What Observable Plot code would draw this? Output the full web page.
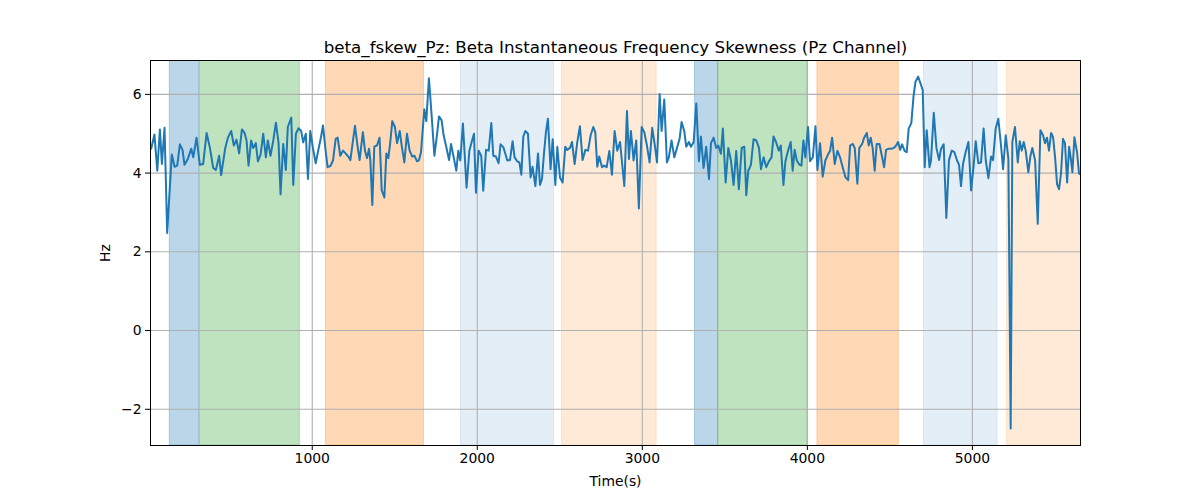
<!DOCTYPE html>
<html>
<head>
<meta charset="utf-8">
<script src="https://cdn.jsdelivr.net/npm/d3@7"></script>
<script src="https://cdn.jsdelivr.net/npm/@observablehq/plot@0.6"></script>
<style>
  html, body { margin: 0; padding: 0; background: white; }
  #chart { width: 1200px; height: 500px; }
</style>
</head>
<body>
<div id="chart"></div>
<script>
const chartTitle = "beta_fskew_Pz: Beta Instantaneous Frequency Skewness (Pz Channel)";
const xLabel = "Time(s)";
const yLabel = "Hz";
const xTicks = [1000, 2000, 3000, 4000, 5000];
const yTicks = [-2, 0, 2, 4, 6];

// [time (s), Hz]
const signal = [
  [24,4.62],[44,4.98],[61,4.06],[77,5.11],[89,4.23],[105,5.15],[121,2.48],[149,4.47],[166,4.16],[182,4.19],
  [198,4.73],[214,4.59],[226,4.21],[246,4.36],[267,4.62],[279,4.40],[299,4.90],[319,4.21],[339,4.23],[360,5.02],
  [380,4.64],[400,4.13],[416,4.08],[436,4.44],[448,3.95],[473,4.64],[489,4.90],[509,5.07],[525,4.70],[541,4.85],
  [557,4.50],[574,5.11],[590,5.02],[602,4.83],[614,4.19],[630,4.83],[642,4.64],[658,4.76],[671,4.30],[687,4.47],
  [703,5.00],[719,4.40],[731,4.83],[747,4.44],[764,4.83],[780,5.28],[796,4.76],[808,3.46],[824,4.74],[840,4.08],
  [852,5.17],[873,5.41],[885,3.70],[901,5.00],[917,5.14],[933,5.07],[945,4.78],[961,5.00],[974,3.85],
  [988,5.07],[1004,4.64],[1021,4.25],[1037,4.59],[1053,4.91],[1065,5.21],[1081,4.57],[1093,4.15],[1110,4.18],[1126,4.32],
  [1142,4.87],[1154,4.90],[1170,4.44],[1186,4.57],[1202,4.50],[1219,4.42],[1231,4.33],[1247,4.83],[1259,5.20],[1275,4.67],
  [1287,4.33],[1307,5.04],[1320,4.56],[1332,4.38],[1344,4.62],[1352,4.33],[1364,3.19],[1376,4.67],[1392,4.70],[1408,4.90],
  [1421,3.56],[1437,3.38],[1449,4.50],[1461,4.38],[1473,4.79],[1485,5.32],[1501,5.17],[1514,4.76],[1530,5.07],[1542,4.70],
  [1558,4.27],[1574,5.00],[1590,4.57],[1606,4.42],[1619,4.44],[1635,4.30],[1647,4.33],[1659,4.53],[1679,5.62],[1691,5.32],
  [1707,6.41],[1724,5.43],[1740,4.44],[1756,4.98],[1768,5.44],[1784,5.34],[1796,4.96],[1812,4.67],[1829,4.33],[1841,4.74],
  [1857,4.40],[1873,4.06],[1885,4.57],[1897,4.32],[1913,5.26],
  [1935,3.63],[1952,4.57],[1964,4.76],[1980,5.00],[1992,3.50],[2008,4.57],[2024,4.44],[2036,3.55],[2053,4.59],[2069,4.57],
  [2085,5.27],[2097,4.44],[2113,4.42],[2129,4.25],[2141,4.73],[2158,4.66],[2170,4.49],[2182,4.32],[2198,4.33],[2214,4.81],
  [2226,4.40],[2242,4.30],[2255,4.27],[2267,3.96],[2279,4.93],[2291,5.07],[2307,5.00],[2323,3.89],[2335,4.16],[2352,3.67],
  [2368,4.50],[2380,3.70],[2392,3.85],[2404,4.49],[2416,5.04],[2428,5.38],[2444,4.10],[2457,4.86],[2473,3.70],[2485,4.67],
  [2501,3.89],[2517,3.76],[2533,4.67],[2545,4.59],[2562,4.64],[2574,4.79],[2590,4.23],[2606,4.79],[2622,5.19],[2638,4.33],
  [2655,4.59],[2671,4.57],[2687,4.96],[2703,5.17],[2715,5.04],[2727,4.16],[2739,4.42],[2756,4.15],[2768,4.19],[2784,4.15],
  [2800,4.56],[2816,3.96],[2832,5.07],[2848,4.57],[2865,4.79],
  [2891,3.67],[2907,5.58],[2919,4.36],[2931,5.07],[2947,4.32],[2963,4.83],[2979,3.10],[2996,5.17],[3012,5.04],[3028,4.70],
  [3044,4.27],[3060,5.15],[3076,4.70],[3089,4.27],[3105,6.01],[3117,5.07],[3133,5.87],[3149,4.27],[3161,4.40],[3177,4.83],
  [3194,4.40],[3210,4.64],[3226,4.87],[3238,5.30],[3254,5.07],[3266,4.67],[3282,4.79],[3295,4.67],[3311,4.79],[3327,5.77],
  [3343,4.30],[3355,4.93],[3371,4.13],[3387,4.67],[3404,3.85],[3416,4.76],[3432,4.90],[3448,4.64],[3460,4.70],[3476,4.49],
  [3488,5.13],[3505,3.76],[3521,4.64],[3537,4.32],[3553,3.70],[3569,4.56],[3585,3.59],[3602,4.64],[3618,4.67],[3630,3.44],
  [3642,4.06],[3658,4.21],[3674,4.86],[3690,4.83],[3707,4.64],[3719,4.10],[3735,4.40],[3751,4.15],[3767,4.30],[3783,4.40],
  [3795,4.93],
  [3810,4.79],[3827,4.57],[3839,4.70],[3855,3.70],[3867,4.30],[3883,4.57],[3899,4.79],[3911,4.06],[3923,4.59],[3936,4.32],
  [3952,4.21],[3964,4.19],[3976,4.83],[3988,4.40],[4004,5.17],[4016,4.30],[4033,4.40],[4049,5.19],[4061,4.08],[4077,4.76],
  [4093,3.91],[4109,4.32],[4125,4.47],[4138,4.57],[4150,4.90],[4166,4.23],[4182,4.57],[4198,4.40],[4214,4.15],[4231,3.89],
  [4247,3.82],[4259,4.70],[4275,4.74],[4287,4.64],[4303,3.73],[4315,4.64],[4332,4.74],[4344,4.90],[4360,5.02],[4372,4.70],
  [4384,4.90],[4396,4.62],[4408,4.06],[4420,4.74],[4437,4.74],[4449,4.49],[4465,4.15],[4477,4.59],[4493,4.62],[4509,4.62],
  [4525,4.64],[4538,4.70],[4550,4.79],[4562,4.59],[4574,4.73],[4590,4.56],[4602,4.53],[4614,5.13],[4630,5.27],[4643,5.94],
  [4655,6.32],[4671,6.45],[4687,6.26],[4699,6.11],[4711,4.15],[4723,5.09],[4740,4.15],
  [4749,4.32],[4766,5.53],[4782,4.64],[4798,4.33],[4810,4.62],[4826,4.73],[4842,2.86],[4858,4.33],[4875,4.57],[4891,4.53],
  [4907,4.32],[4919,4.21],[4931,3.67],[4943,4.23],[4959,4.53],[4976,4.79],[4992,3.56],[5008,4.21],[5020,4.81],[5036,4.25],
  [5052,4.27],[5068,5.13],[5081,4.32],[5097,3.87],[5113,4.42],[5125,4.33],[5141,5.13],[5157,5.38],[5174,4.67],[5186,4.10],
  [5202,4.96],[5218,4.36],[5232,-2.49],[5242,4.79],[5258,5.17],[5275,4.27],[5287,4.81],[5299,4.57],[5311,4.79],[5323,4.57],
  [5339,4.02],[5351,4.42],[5363,4.64],[5380,4.32],[5396,2.71],[5412,5.09],[5428,4.96],[5440,4.76],[5452,4.90],[5464,4.57],
  [5477,5.02],[5489,4.91],[5501,4.40],[5513,3.72],[5525,3.59],[5537,3.99],[5549,4.87],[5561,4.76],[5574,3.76],[5586,4.67],
  [5598,4.32],[5606,4.02],[5618,4.91],[5634,4.53],[5646,3.99],[5654,3.97]
];

// shaded intervals
const regionStart = [137, 319, 1083, 1901, 2513, 3319, 3460, 4061, 4707, 5210];
const regionEnd   = [315, 925, 1677, 2465, 3087, 3460, 4000, 4554, 5153, 5700];
const regionColor = ["#1f77b4", "#2ca02c", "#ff7f0e", "#1f77b4", "#ff7f0e",
                     "#1f77b4", "#2ca02c", "#ff7f0e", "#1f77b4", "#ff7f0e"];
const regionAlpha = [0.3, 0.3, 0.3, 0.12, 0.16, 0.3, 0.3, 0.3, 0.12, 0.16];

const xDomain = [20, 5655];
const yDomain = [-2.92, 6.86];

const regions = regionStart.map((s, i) => {
  const c = d3.color(regionColor[i]);
  c.opacity = regionAlpha[i];
  return {start: s, end: regionEnd[i], fill: c.formatRgb()};
});

const fmtY = d => (d < 0 ? "\u2212" + Math.abs(d) : String(d));

const chart = Plot.plot({
  width: 1200,
  height: 500,
  marginLeft: 150,
  marginRight: 120,
  marginTop: 60,
  marginBottom: 55,
  style: {fontFamily: "DejaVu Sans, sans-serif", fontSize: "13.9px", color: "black", background: "white", overflow: "visible"},
  x: {domain: xDomain},
  y: {domain: yDomain},
  color: {type: "identity"},
  marks: [
    Plot.rect(regions, {x1: "start", x2: "end", fill: "fill", stroke: "fill", strokeWidth: 1, clip: true}),
    Plot.gridX({ticks: xTicks, stroke: "#b0b0b0", strokeOpacity: 1, strokeWidth: 1.1}),
    Plot.gridY({ticks: yTicks, stroke: "#b0b0b0", strokeOpacity: 1, strokeWidth: 1.1}),
    Plot.line(signal, {x: d => d[0], y: d => d[1], stroke: "#1f77b4", strokeWidth: 2, clip: true}),
    Plot.frame({stroke: "black", strokeWidth: 1}),
    Plot.axisX({ticks: xTicks, tickFormat: d => String(d), tickSize: 5, tickPadding: 3,
      label: xLabel, labelAnchor: "center", labelArrow: "none", labelOffset: 40}),
    Plot.axisY({ticks: yTicks, tickFormat: fmtY, tickSize: 5, tickPadding: 4,
      label: yLabel, labelAnchor: "center", labelArrow: "none", labelOffset: 50}),
    Plot.text([chartTitle], {text: d => d, frameAnchor: "top", lineAnchor: "middle", dy: -13, fontSize: 16.7})
  ]
});
document.getElementById("chart").appendChild(chart);
</script>
</body>
</html>
